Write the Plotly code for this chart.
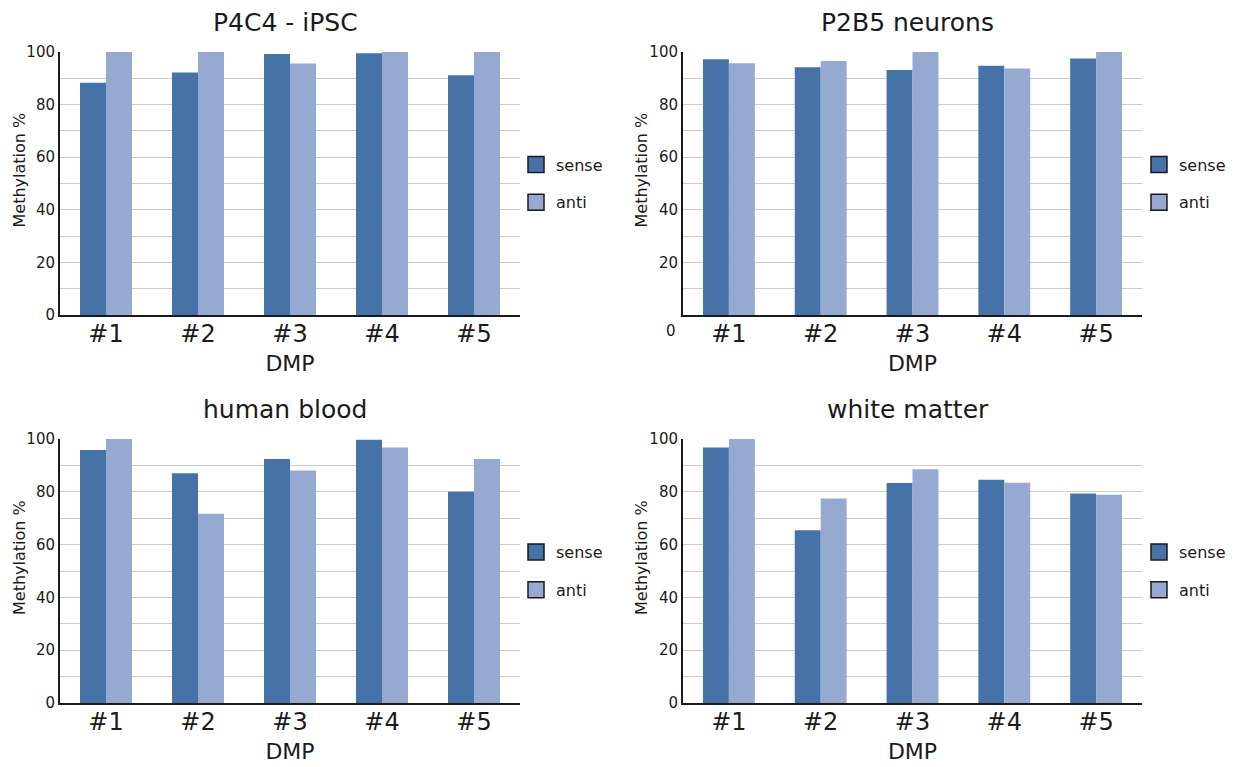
import plotly.graph_objects as go

# ---------------- data ----------------
categories = ["#1", "#2", "#3", "#4", "#5"]
series_names = ["sense", "anti"]

p4c4_sense = [88.3, 92.2, 99.2, 99.5, 91.2]
p4c4_anti = [100, 100, 95.6, 100, 100]

p2b5_sense = [97.2, 94.2, 93.2, 94.8, 97.5]
p2b5_anti = [95.7, 96.6, 100, 93.7, 100]

blood_sense = [95.8, 87.0, 92.4, 99.7, 80.0]
blood_anti = [100, 71.7, 88.1, 96.8, 92.4]

wm_sense = [96.8, 65.4, 83.3, 84.6, 79.4]
wm_anti = [100, 77.5, 88.5, 83.4, 78.9]

panel_titles = ["P4C4 - iPSC", "P2B5 neurons", "human blood", "white matter"]
y_tick_values = [0, 20, 40, 60, 80, 100]
y_tick_values_no_zero = [20, 40, 60, 80, 100]
x_title = "DMP"
y_title = "Methylation %"

# ---------------- style ----------------
W, H = 1235, 767
SENSE = "#4673a7"
ANTI = "#95a9d1"
GRID = "#cbcbcb"
AXIS = "#1a1a1a"
FONT = "DejaVu Sans"

def px_x(v):
    return v / W

def px_y(v):
    return 1 - v / H

panels = [
    dict(title=panel_titles[0], sense=p4c4_sense, anti=p4c4_anti,
         x0=60, x1=520, top=52, bot=315, tickvals=y_tick_values, legx=516, ytx=19),
    dict(title=panel_titles[1], sense=p2b5_sense, anti=p2b5_anti,
         x0=683, x1=1142, top=52, bot=315, tickvals=y_tick_values_no_zero, legx=1139, ytx=641),
    dict(title=panel_titles[2], sense=blood_sense, anti=blood_anti,
         x0=60, x1=520, top=439, bot=703, tickvals=y_tick_values, legx=516, ytx=19),
    dict(title=panel_titles[3], sense=wm_sense, anti=wm_anti,
         x0=683, x1=1142, top=439, bot=703, tickvals=y_tick_values, legx=1139, ytx=641),
]

fig = go.Figure()
layout = dict(
    width=W, height=H,
    margin=dict(l=0, r=0, t=0, b=0, autoexpand=False),
    paper_bgcolor="white", plot_bgcolor="white",
    barmode="group", bargap=0.435, bargroupgap=0,
    font=dict(family=FONT, color="#1a1a1a"),
    annotations=[],
)

for i, p in enumerate(panels):
    s = "" if i == 0 else str(i + 1)
    xa, ya = "x" + s, "y" + s
    leg = "legend" if i == 0 else "legend" + str(i + 1)

    fig.add_trace(go.Bar(x=categories, y=p["sense"], name=series_names[0],
                         marker=dict(color=SENSE, line=dict(width=0)),
                         showlegend=False, xaxis=xa, yaxis=ya))
    fig.add_trace(go.Bar(x=categories, y=p["anti"], name=series_names[1],
                         marker=dict(color=ANTI, line=dict(width=0)),
                         showlegend=False, xaxis=xa, yaxis=ya))
    # legend entries (square swatches with dark border)
    for j, (nm, col) in enumerate(zip(series_names, [SENSE, ANTI])):
        fig.add_trace(go.Scatter(x=[None], y=[None], mode="markers", name=nm,
                                 marker=dict(symbol="square", size=16, color=col,
                                             line=dict(color=AXIS, width=1.5)),
                                 legend=leg, legendgroup=f"g{i}{j}",
                                 showlegend=True, xaxis=xa, yaxis=ya))

    layout["xaxis" + s] = dict(
        domain=[px_x(p["x0"]), px_x(p["x1"])], anchor=ya, automargin=False,
        range=[-0.5, 4.5], type="category",
        showline=True, linecolor=AXIS, linewidth=2, ticks="",
        showgrid=False, zeroline=False, ticklabelstandoff=-4,
        tickfont=dict(size=24, family=FONT, color="#1a1a1a"),
        title=dict(text=x_title, font=dict(size=22, family=FONT, color="#1a1a1a"), standoff=9),
    )
    layout["yaxis" + s] = dict(
        domain=[px_y(p["bot"]), px_y(p["top"])], anchor=xa, automargin=False,
        range=[0, 100], tickmode="array", tickvals=p["tickvals"],
        showline=True, linecolor=AXIS, linewidth=2, ticks="",
        showgrid=True, gridcolor=GRID, gridwidth=1, zeroline=False,
        minor=dict(tickmode="linear", tick0=0, dtick=10, showgrid=True, gridcolor=GRID, gridwidth=1),
        tickfont=dict(size=15, family=FONT, color="#1a1a1a"),
    )
    layout[leg] = dict(
        x=px_x(p["legx"]), y=px_y((p["top"] + p["bot"]) / 2),
        xanchor="left", yanchor="middle",
        bgcolor="rgba(0,0,0,0)", borderwidth=0,
        font=dict(size=16, family=FONT, color="#1a1a1a"),
        tracegroupgap=14, itemsizing="trace", traceorder="grouped",
    )
    layout["annotations"].append(dict(
        text=p["title"], x=px_x((p["x0"] + p["x1"]) / 2 - 5), y=px_y(p["top"] - 29),
        xref="paper", yref="paper", xanchor="center", yanchor="middle",
        showarrow=False, font=dict(size=25, family=FONT, color="#1a1a1a"),
    ))
    # y-axis title
    layout["annotations"].append(dict(
        text=y_title, x=px_x(p["ytx"]), y=px_y((p["top"] + p["bot"]) / 2 - 13),
        xref="paper", yref="paper", xanchor="center", yanchor="middle",
        textangle=-90, showarrow=False,
        font=dict(size=16, family=FONT, color="#1a1a1a"),
    ))

# stray "0" label of the P2B5 panel, drawn below its axis
layout["annotations"].append(dict(
    text="0", x=px_x(671), y=px_y(331), xref="paper", yref="paper",
    xanchor="center", yanchor="middle", showarrow=False,
    font=dict(size=15, family=FONT, color="#1a1a1a"),
))

fig.update_layout(**layout)
fig.write_html("out.html")
